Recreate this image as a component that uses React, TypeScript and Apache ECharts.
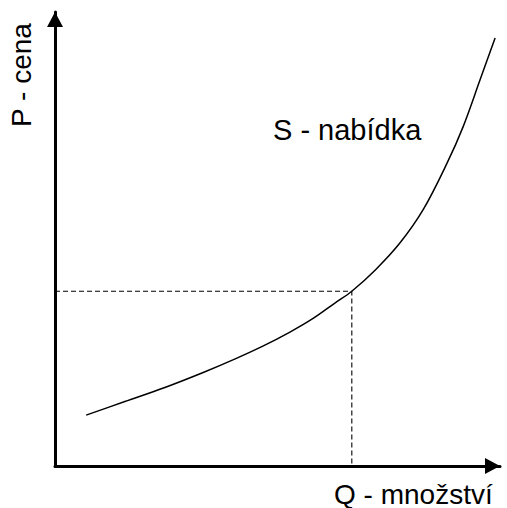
import React, { useEffect, useRef } from "react";
import * as echarts from "echarts";

// Supply curve points (Q, P) in abstract units 0..100
const supplyQ = [7.0, 15.7, 24.7, 33.3, 40.5, 46.7, 52.8, 58.0, 62.9, 66.7, 72.1, 77.5, 82.7, 88.1, 91.7, 95.5, 98.9];
const supplyP = [11.2, 14.2, 17.3, 20.6, 23.6, 26.4, 29.5, 32.5, 35.9, 38.5, 43.3, 49.1, 56.4, 66.7, 74.7, 85.0, 94.3];
const equilibriumQ = 66.7;
const equilibriumP = 38.5;
const axisMax = 100;
const labelP = "P - cena";
const labelQ = "Q - množství";
const labelS = "S - nabídka";

export default function App() {
  const ref = useRef<HTMLDivElement>(null);
  useEffect(() => {
    if (!ref.current) return;
    const chart = echarts.init(ref.current, null, { renderer: "svg" });
    const font = "'Liberation Sans', Arial, sans-serif";
    const supply = supplyQ.map((q, i) => [q, supplyP[i]]);
    const axisCommon = {
      type: "value",
      min: 0,
      max: axisMax,
      axisLine: {
        show: true,
        lineStyle: { color: "#000", width: 3 },
        symbol: ["none", "triangle"],
        symbolSize: [16, 15],
        symbolOffset: [0, -7.5],
      },
      axisTick: { show: false },
      axisLabel: { show: false },
      splitLine: { show: false },
    };
    chart.setOption({
      animation: false,
      backgroundColor: "#ffffff",
      grid: { left: 55, right: 7, top: 12, bottom: 42 },
      xAxis: axisCommon,
      yAxis: axisCommon,
      series: [
        {
          type: "line",
          data: [
            [0, equilibriumP],
            [equilibriumQ, equilibriumP],
            [equilibriumQ, 0],
          ],
          showSymbol: false,
          lineStyle: { color: "#000", width: 1.1, type: [5, 3] },
          silent: true,
          z: 1,
        },
        {
          type: "line",
          data: supply,
          smooth: 0.35,
          showSymbol: false,
          lineStyle: { color: "#000", width: 1.5 },
          silent: true,
          z: 2,
        },
      ],
      graphic: [
        {
          type: "text",
          x: 21,
          y: 75,
          rotation: Math.PI / 2,
          style: {
            text: labelP,
            fill: "#000",
            font: `28px ${font}`,
            align: "center",
            verticalAlign: "middle",
          },
        },
        {
          type: "text",
          x: 273,
          y: 130,
          style: {
            text: labelS,
            fill: "#000",
            font: `29px ${font}`,
            align: "left",
            verticalAlign: "middle",
          },
        },
        {
          type: "text",
          x: 334,
          y: 494,
          style: {
            text: labelQ,
            fill: "#000",
            font: `28px ${font}`,
            align: "left",
            verticalAlign: "middle",
          },
        },
      ],
    });
    return () => chart.dispose();
  }, []);
  return <div ref={ref} style={{ width: 507, height: 508, position: "absolute", left: 0, top: 0 }} />;
}
